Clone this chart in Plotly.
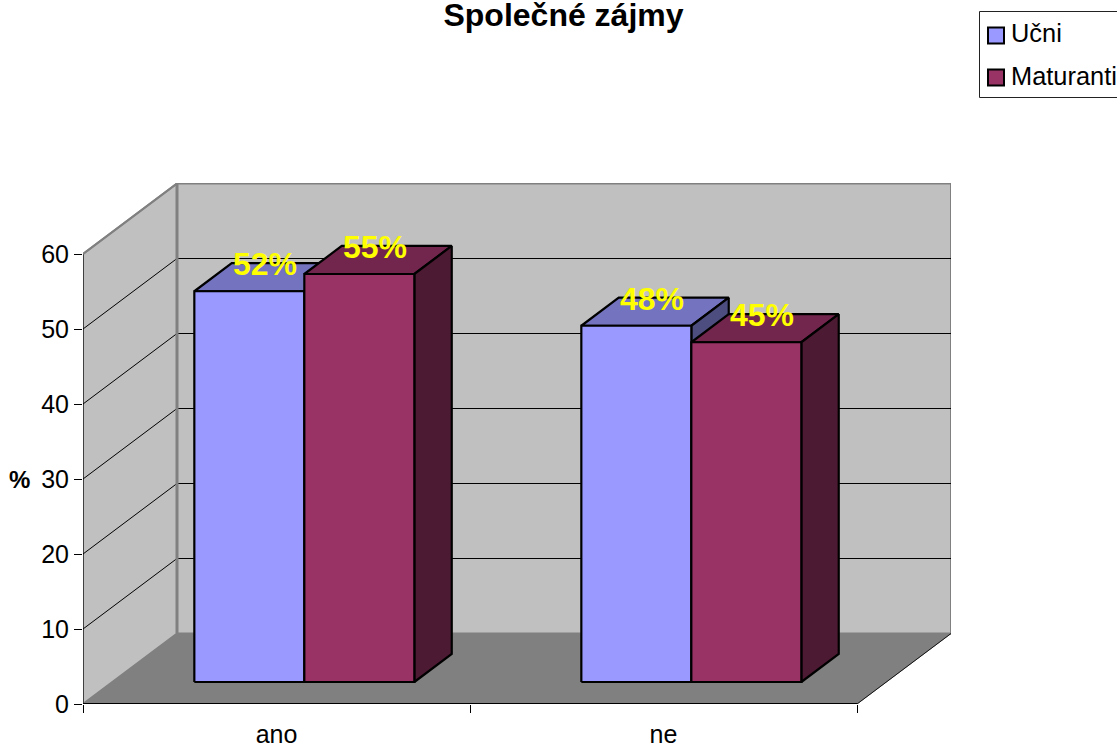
import plotly.graph_objects as go

categories = ["ano", "ne"]
series_names = ["Učni", "Maturanti"]
ucni_values = [52.1, 47.5]
maturanti_values = [54.4, 45.3]
ucni_labels = ["52%", "48%"]
maturanti_labels = ["55%", "45%"]
y_ticks = [0, 10, 20, 30, 40, 50, 60]

PX_X, PX_Y = 387.0, 7.5
DX, DY = 94 / PX_X, 70.5 / PX_Y
BAR_W = 110 / PX_X
GAP = (1 - 2 * BAR_W) / 2 - 1.5 / PX_X
D0, D1 = 0.312, 0.71
FONT = "Liberation Sans, Arial, sans-serif"


def P(x, v, d):
    return x + d * DX, v + d * DY


def px_x(p):
    return (p - 83) / 868


def px_y(p):
    return (704 - p) / 521


fig = go.Figure()


def poly(points, fill, line="black", width=2.2):
    xs, ys = zip(*[P(*p) for p in points + points[:1]])
    fig.add_trace(go.Scatter(x=xs, y=ys, mode="lines", fill="toself", fillcolor=fill,
                             line=dict(color=line, width=width), showlegend=False,
                             hoverinfo="skip"))


def seg(a, b, color, width=1):
    xs, ys = zip(P(*a), P(*b))
    fig.add_trace(go.Scatter(x=xs, y=ys, mode="lines", line=dict(color=color, width=width),
                             showlegend=False, hoverinfo="skip"))


top = y_ticks[-1]
n = len(categories)
GRAY = "#808080"
poly([(0, 0, 1), (n, 0, 1), (n, top, 1), (0, top, 1)], "#C0C0C0", GRAY, 2)
poly([(0, 0, 0), (0, 0, 1), (0, top, 1), (0, top, 0)], "#C0C0C0", GRAY, 2)
poly([(0, 0, 0), (n, 0, 0), (n, 0, 1), (0, 0, 1)], GRAY, GRAY, 1)
for v in y_ticks[1:-1]:
    seg((0, v, 0), (0, v, 1), "#000000")
    seg((0, v, 1), (n, v, 1), "#000000")
seg((n, 0, 0), (n, 0, 1), "#111111")
seg((0, 0, 0), (0, top, 0), "black", 1)
seg((0, top, 0), (0, top, 1), GRAY, 2)
seg((0, 0, 0), (n, 0, 0), "black", 2)
seg((0, 0, 1), (0, top, 1), GRAY, 3)


def bar(x0, v, front, top_c, side):
    x1 = x0 + BAR_W
    poly([(x0, v, D0), (x1, v, D0), (x1, v, D1), (x0, v, D1)], top_c)
    poly([(x1, 0, D0), (x1, 0, D1), (x1, v, D1), (x1, v, D0)], side)
    poly([(x0, 0, D0), (x1, 0, D0), (x1, v, D0), (x0, v, D0)], front)


for i in range(n):
    x0 = i + GAP
    bar(x0, ucni_values[i], "#9999FF", "#7373BF", "#4D4D80")
    bar(x0 + BAR_W, maturanti_values[i], "#993366", "#73264D", "#4D1A33")

label_x, label_y, label_t = [], [], []
for i in range(n):
    for off, vals, labs in ((0, ucni_values, ucni_labels), (1, maturanti_values, maturanti_labels)):
        px, py = P(i + GAP + off * BAR_W + BAR_W / 2, vals[i], (D0 + D1) / 2)
        label_x.append(px - 3 / PX_X)
        label_y.append(py + 10 / PX_Y)
        label_t.append("<b>" + labs[i] + "</b>")
fig.add_trace(go.Scatter(x=label_x, y=label_y, text=label_t, mode="text", textposition="middle center",
                         textfont=dict(family=FONT, size=32, color="#FFFF00"),
                         showlegend=False, hoverinfo="skip", cliponaxis=False))

# legend box, cut by the right edge of the page as in the reference
shapes = [dict(type="rect", xref="paper", yref="paper", x0=px_x(979.5), x1=px_x(1140),
               y0=px_y(97.5), y1=px_y(11.5), line=dict(color="#222222", width=1), fillcolor="white")]
annotations = [dict(text="<b>%</b>", x=px_x(20), y=30 / (521 / PX_Y), xref="paper", yref="paper",
                    xanchor="center", showarrow=False, font=dict(size=24, family=FONT))]
for name, color, sw_top, txt_y in zip(series_names, ("#9999FF", "#993366"), (27.5, 69.5), (33, 76)):
    shapes.append(dict(type="rect", xref="paper", yref="paper", x0=px_x(988), x1=px_x(1004),
                       y0=px_y(sw_top + 16), y1=px_y(sw_top), line=dict(color="black", width=2),
                       fillcolor=color))
    annotations.append(dict(text=name, x=px_x(1009), y=px_y(txt_y), xref="paper", yref="paper",
                            xanchor="left", yanchor="middle", showarrow=False,
                            font=dict(size=25.4, family=FONT)))

fig.update_layout(
    width=1117, height=744, paper_bgcolor="white", plot_bgcolor="white",
    margin=dict(l=83, r=166, t=183, b=40, autoexpand=False),
    font=dict(family=FONT, size=24, color="black"),
    title=dict(text="<b>Společné zájmy</b>", x=563.5 / 1117, xanchor="center",
               y=1 - 15 / 744, yanchor="middle", font=dict(size=32, family=FONT)),
    showlegend=False,
    shapes=shapes,
    annotations=annotations,
    xaxis=dict(range=[0, 868 / PX_X], showgrid=False, zeroline=False, showline=False,
               tickmode="array", tickvals=[i + 0.5 for i in range(n)], ticktext=categories,
               ticks="", ticklen=0, tickfont=dict(size=25), ticklabelstandoff=13,
               minor=dict(tickmode="array", tickvals=list(range(n + 1)), ticks="outside",
                          ticklen=8, tickcolor="black", tickwidth=1, showgrid=False)),
    yaxis=dict(range=[0, 521 / PX_Y], showgrid=False, zeroline=False, showline=False,
               tickmode="array", tickvals=y_ticks, ticks="outside", ticklen=8,
               tickcolor="black", tickwidth=1, tickfont=dict(size=25)),
)

fig.write_html("out.html", config=dict(displayModeBar=False),
               post_script="document.body.style.margin='0';document.body.style.overflow='hidden';")
